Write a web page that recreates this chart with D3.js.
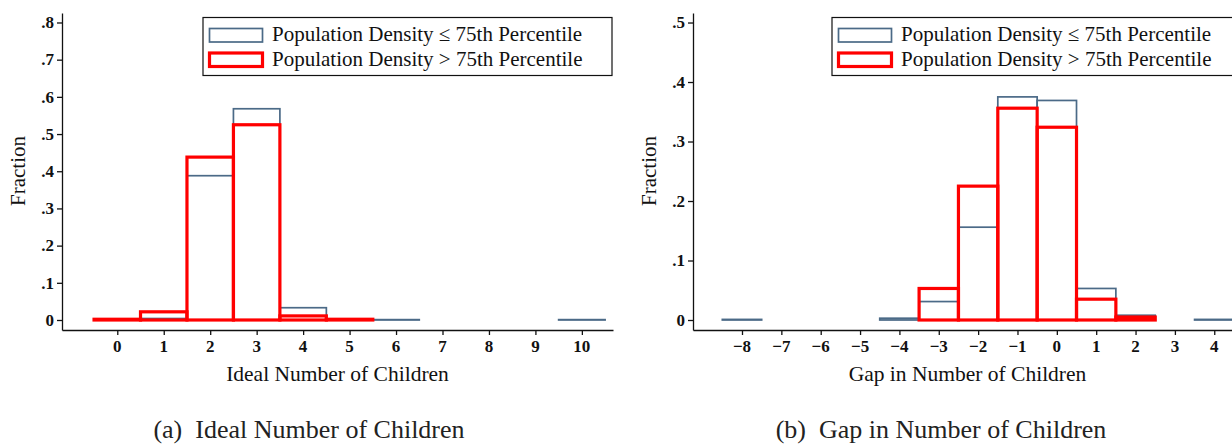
<!DOCTYPE html>
<html>
<head>
<meta charset="utf-8">
<script src="https://cdn.jsdelivr.net/npm/d3@7/dist/d3.min.js"></script>
<style>
  body { margin: 0; background: #fff; }
  svg { display: block; font-family: "Liberation Serif", "Times New Roman", serif; }
</style>
</head>
<body>
<svg id="chart" width="1232" height="445"></svg>
<script>
// panel (a) - ideal number of children, fraction per bin
var idealBins  = [0, 1, 2, 3, 4, 5, 6, 7, 8, 9, 10];
var idealLow   = [0.002, 0.004, 0.388, 0.568, 0.033, 0.002, 0.001, 0, 0, 0, 0.001];
var idealHigh  = [0.002, 0.022, 0.438, 0.525, 0.011, 0.002, 0, 0, 0, 0, 0];
var idealXTicks = [0, 1, 2, 3, 4, 5, 6, 7, 8, 9, 10];
var idealYTicks = [0, 0.1, 0.2, 0.3, 0.4, 0.5, 0.6, 0.7, 0.8];

// panel (b) - gap in number of children
var gapBins  = [-8, -7, -6, -5, -4, -3, -2, -1, 0, 1, 2, 3, 4];
var gapLow   = [0.001, 0, 0, 0, 0.003, 0.031, 0.156, 0.375, 0.369, 0.053, 0.008, 0, 0.001];
var gapHigh  = [0, 0, 0, 0, 0, 0.053, 0.225, 0.356, 0.324, 0.035, 0.005, 0, 0];
var gapXTicks = [-8, -7, -6, -5, -4, -3, -2, -1, 0, 1, 2, 3, 4];
var gapYTicks = [0, 0.1, 0.2, 0.3, 0.4, 0.5];

var legendLabels = ["Population Density \u2264 75th Percentile", "Population Density > 75th Percentile"];

var lowColor = "#4b6a87", highColor = "#ff0000";
var svg = d3.select("#chart");

function yLabel(d) {
  // stata style: .1 .2 ... and plain 0
  return d === 0 ? "0" : d3.format(".1f")(d).replace(/^0/, "");
}
function xLabel(d) {
  return d < 0 ? "\u2212" + Math.abs(d) : String(d);
}

function drawPanel(p) {
  var x = d3.scaleLinear().domain(p.xDomain).range(p.xRange);
  var y = d3.scaleLinear().domain(p.yDomain).range([330, 13]);
  var g = svg.append("g");

  // axis lines and ticks from d3, labels written separately below
  var xAxis = g.append("g").attr("transform", "translate(0,330)")
    .call(d3.axisBottom(x).tickValues(p.xTicks).tickSize(5).tickSizeOuter(0).tickFormat(""));
  var yAxis = g.append("g").attr("transform", "translate(" + p.xRange[0] + ",0)")
    .call(d3.axisLeft(y).tickValues(p.yTicks).tickSize(5).tickSizeOuter(0).tickFormat(""));
  g.selectAll("path.domain, .tick line").attr("stroke", "#111").attr("stroke-width", 1.3);

  g.append("g").selectAll("text").data(p.xTicks).enter().append("text")
    .attr("x", function(d) { return x(d); })
    .attr("y", 352)
    .attr("text-anchor", "middle")
    .style("font-size", "17px").style("font-weight", "bold").attr("fill", "#111")
    .text(xLabel);
  g.append("g").selectAll("text").data(p.yTicks).enter().append("text")
    .attr("x", p.xRange[0] - 8)
    .attr("y", function(d) { return y(d); })
    .attr("dy", "0.34em")
    .attr("text-anchor", "end")
    .style("font-size", "17px").style("font-weight", "bold").attr("fill", "#111")
    .text(yLabel);

  // histogram outlines, low density first so the red sits on top
  function bars(values, color, width) {
    var data = p.bins.map(function(b, i) { return {bin: b, v: values[i]}; })
      .filter(function(d) { return d.v > 0; });
    g.append("g").selectAll("rect").data(data).enter().append("rect")
      .attr("x", function(d) { return x(d.bin - 0.5); })
      .attr("width", function(d) { return x(d.bin + 0.5) - x(d.bin - 0.5); })
      .attr("y", function(d) { return y(d.v); })
      .attr("height", function(d) { return y(0) - y(d.v); })
      .attr("fill", "none")
      .attr("stroke", color)
      .attr("stroke-width", width);
  }
  bars(p.low, lowColor, 1.7);
  bars(p.high, highColor, 3.2);

  // legend box in the top right corner
  var lx = p.xRange[1] - 410;
  var leg = g.append("g").attr("transform", "translate(" + lx + ",17.5)");
  leg.append("rect").attr("width", 409).attr("height", 58)
    .attr("fill", "#fff").attr("stroke", "#111").attr("stroke-width", 1.2);
  legendLabels.forEach(function(lab, i) {
    leg.append("rect").attr("x", 6.5).attr("y", 11 + i * 24.5).attr("width", 53).attr("height", 13.5)
      .attr("fill", "none")
      .attr("stroke", i === 0 ? lowColor : highColor)
      .attr("stroke-width", i === 0 ? 1.7 : 3.2);
    leg.append("text").attr("x", 69).attr("y", 23 + i * 25)
      .style("font-size", "21px").attr("fill", "#111").text(lab);
  });

  // axis titles
  g.append("text").attr("x", (p.xRange[0] + p.xRange[1]) / 2).attr("y", 381)
    .attr("text-anchor", "middle").style("font-size", "21.5px").attr("fill", "#111")
    .text(p.xTitle);
  g.append("text").attr("transform", "translate(" + (p.xRange[0] - 37) + ",171) rotate(-90)")
    .attr("text-anchor", "middle").style("font-size", "21px").attr("fill", "#111")
    .text("Fraction");

  // subfigure caption below
  svg.append("text").attr("x", p.captionX).attr("y", 438)
    .attr("text-anchor", "middle").style("font-size", "26px").attr("fill", "#222")
    .text(p.caption);
}

drawPanel({
  bins: idealBins, low: idealLow, high: idealHigh,
  xTicks: idealXTicks, yTicks: idealYTicks,
  xDomain: [-1.19, 10.67], xRange: [62, 613],
  yDomain: [-0.0269, 0.8255],
  xTitle: "Ideal Number of Children",
  caption: "(a)\u2002Ideal Number of Children", captionX: 309
});

drawPanel({
  bins: gapBins, low: gapLow, high: gapHigh,
  xTicks: gapXTicks, yTicks: gapYTicks,
  xDomain: [-9.245, 4.705], xRange: [693, 1242],
  yDomain: [-0.0168, 0.516],
  xTitle: "Gap in Number of Children",
  caption: "(b)\u2002Gap in Number of Children", captionX: 941
});
</script>
</body>
</html>
